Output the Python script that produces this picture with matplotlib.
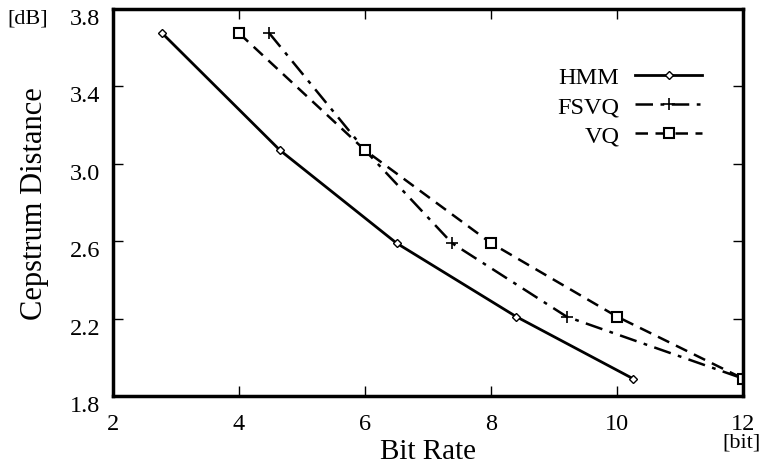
import matplotlib
matplotlib.use("Agg")
import matplotlib.pyplot as plt
from matplotlib.transforms import ScaledTranslation

plt.rcParams["font.family"] = ["Liberation Serif", "DejaVu Serif"]

# values
distance = [3.675, 3.07, 2.59, 2.21, 1.89]
hmm_rate = [2.78, 4.65, 6.5, 8.4, 10.25]
fsvq_rate = [4.48, 6.0, 7.38, 9.2, 12.0]
vq_rate = [4.0, 6.0, 8.0, 10.0, 12.0]

x_ticks = [2, 4, 6, 8, 10, 12]
y_ticks = [1.8, 2.2, 2.6, 3.0, 3.4, 3.8]

fig = plt.figure(figsize=(7.61, 4.64), dpi=100)
ax = fig.add_axes([0.1485, 0.1444, 0.828, 0.834])

ax.plot(hmm_rate, distance, color="black", linewidth=2.0, linestyle="-",
        marker="D", markersize=4.5, markerfacecolor="white", markeredgewidth=1.0,
        label="HMM")
ax.plot(fsvq_rate, distance, color="black", linewidth=1.8, dashes=(7, 3, 1.5, 3),
        marker="+", markersize=8, markeredgewidth=1.2, label="FSVQ")
ax.plot(vq_rate, distance, color="black", linewidth=1.8, dashes=(5, 3),
        marker="s", markersize=7, markerfacecolor="white", markeredgewidth=1.5,
        label="VQ")

ax.set_xlim(2, 12)
ax.set_ylim(1.8, 3.8)
ax.set_xticks(x_ticks)
ax.set_yticks(y_ticks)
ax.set_xticklabels([str(v) for v in x_ticks])
ax.set_yticklabels([f"{v:.1f}" for v in y_ticks])

for spine in ax.spines.values():
    spine.set_linewidth(2.5)
ax.tick_params(direction="in", length=7, width=1.0, top=True, right=True,
               labelsize=17.5)
ax.tick_params(axis="y", pad=9)
ax.tick_params(axis="x", pad=12)

# y tick labels sit a little below their ticks in the original
shift = ScaledTranslation(0, -5 / 72, fig.dpi_scale_trans)
for label in ax.get_yticklabels():
    label.set_transform(label.get_transform() + shift)

ax.set_xlabel("Bit Rate", fontsize=21, labelpad=3)
ax.set_ylabel("Cepstrum Distance", fontsize=22, labelpad=15)

fig.text(0.01, 0.96, "[dB]", fontsize=16, ha="left", va="center")
fig.text(0.999, 0.045, "[bit]", fontsize=16, ha="right", va="center")

leg = ax.legend(loc="upper right", bbox_to_anchor=(0.935, 0.852), frameon=False,
                markerfirst=False, fontsize=17.5, handlelength=2.75,
                handletextpad=0.66, labelspacing=0.3, borderaxespad=0,
                borderpad=0)

fig.savefig("out.png", dpi=100)
